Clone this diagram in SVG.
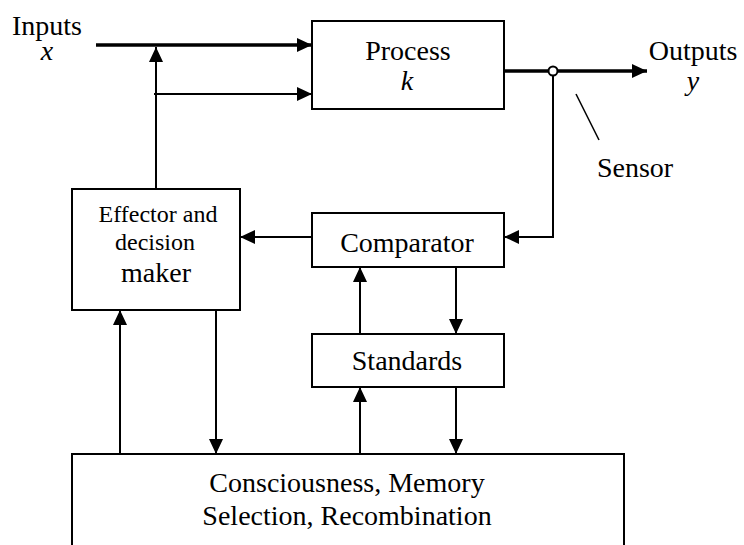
<svg xmlns="http://www.w3.org/2000/svg" width="744" height="545" viewBox="0 0 744 545">
<style>
.box{fill:#fff;stroke:#000;stroke-width:2}
.t{font-family:'Liberation Serif','DejaVu Serif',serif;font-size:28px;fill:#000;text-anchor:middle}
.s{font-size:24px}
.i{font-style:italic}
.c{fill:none;stroke:#000;stroke-width:2}
.thick{stroke-width:3.5}
</style>
<defs>
<marker id="ah" markerUnits="userSpaceOnUse" markerWidth="15" markerHeight="14" refX="15" refY="7" orient="auto">
<path d="M0,0 L15,7 L0,14 z" fill="#000"/>
</marker>
</defs>
<rect width="744" height="545" fill="#fff"/>
<g id="connectors">
<line class="c thick" x1="96" y1="45" x2="312" y2="45" marker-end="url(#ah)"/>
<line class="c" x1="154" y1="94" x2="312" y2="94" marker-end="url(#ah)"/>
<line class="c" x1="156" y1="189" x2="156" y2="47" marker-end="url(#ah)"/>
<line class="c thick" x1="504" y1="71" x2="647" y2="71" marker-end="url(#ah)"/>
<polyline class="c" points="553,76 553,237 504,237" marker-end="url(#ah)"/>
<line class="c" x1="312" y1="237" x2="240" y2="237" marker-end="url(#ah)"/>
<line class="c" x1="360" y1="334" x2="360" y2="267" marker-end="url(#ah)"/>
<line class="c" x1="456" y1="267" x2="456" y2="334" marker-end="url(#ah)"/>
<line class="c" x1="360" y1="454" x2="360" y2="387" marker-end="url(#ah)"/>
<line class="c" x1="456" y1="387" x2="456" y2="454" marker-end="url(#ah)"/>
<line class="c" x1="120" y1="454" x2="120" y2="310" marker-end="url(#ah)"/>
<line class="c" x1="216" y1="310" x2="216" y2="454" marker-end="url(#ah)"/>
<circle cx="553" cy="71" r="4.5" fill="#fff" stroke="#000" stroke-width="2"/>
<line x1="576" y1="94" x2="599" y2="140" stroke="#000" stroke-width="1.5"/>
</g>
<g id="inputs">
<text class="t" x="47" y="35">Inputs</text>
<text class="t i" x="47" y="60">x</text>
</g>
<g id="process">
<rect class="box" x="312" y="21" width="192" height="88"/>
<text class="t" x="408" y="60">Process</text>
<text class="t i" x="407" y="90">k</text>
</g>
<g id="outputs">
<text class="t" x="693" y="60">Outputs</text>
<text class="t i" x="693" y="90">y</text>
</g>
<g id="sensor">
<text class="t" x="635" y="177">Sensor</text>
</g>
<g id="effector">
<rect class="box" x="72" y="189" width="168" height="121"/>
<text class="t s" x="158" y="222">Effector and</text>
<text class="t s" x="155" y="250">decision</text>
<text class="t" x="156" y="282">maker</text>
</g>
<g id="comparator">
<rect class="box" x="312" y="213" width="192" height="54"/>
<text class="t" x="407" y="252">Comparator</text>
</g>
<g id="standards">
<rect class="box" x="312" y="334" width="192" height="53"/>
<text class="t" x="407" y="370">Standards</text>
</g>
<g id="consciousness">
<path d="M72,546 V454 H624 V546" class="box"/>
<text class="t" x="347" y="492">Consciousness, Memory</text>
<text class="t" x="347" y="525">Selection, Recombination</text>
</g>
</svg>
